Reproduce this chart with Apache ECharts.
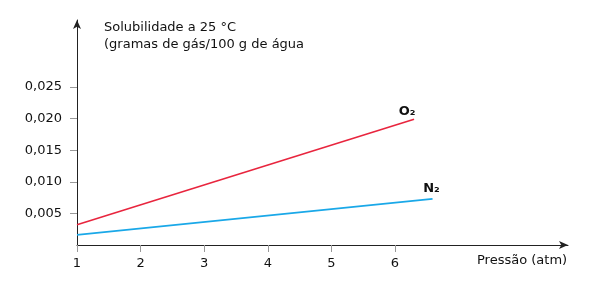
<!DOCTYPE html>
<html><head><meta charset="utf-8">
<script src="https://cdn.jsdelivr.net/npm/echarts@6/dist/echarts.min.js"></script>
<style>html,body{margin:0;padding:0;background:#fff}#c{width:614px;height:283px}</style>
</head><body><div id="c"></div>
<script>
// Data
const pressureO2 = [1, 6.3];
const solubilityO2 = [0.0032, 0.0199];
const pressureN2 = [1, 6.59];
const solubilityN2 = [0.0016, 0.0073];
const xTicks = [1, 2, 3, 4, 5, 6];
const yTicks = [0.005, 0.010, 0.015, 0.020, 0.025];
const seriesNames = ['O₂', 'N₂'];
const yTitle = ['Solubilidade a 25 °C', '(gramas de gás/100 g de água'];
const xTitle = 'Pressão (atm)';

const font = 'DejaVu Sans, Verdana, sans-serif';
function pts(xs, ys) { return xs.map((x, i) => [x, ys[i]]); }
function endLbl(name, offset) {
  return { show: true, formatter: name, align: 'center', verticalAlign: 'bottom', distance: 0, offset: offset,
    fontFamily: font, fontSize: 13, fontWeight: 'bold', color: '#111' };
}
const chart = echarts.init(document.getElementById('c'), null, { renderer: 'canvas' });
chart.setOption({
  animation: false,
  grid: { left: 77, right: 46, top: 20, bottom: 38 },
  xAxis: {
    type: 'value', min: 1, max: 8.72, interval: 1,
    splitLine: { show: false },
    axisLine: { lineStyle: { color: '#222', width: 1 }, symbol: ['none', 'arrow'], symbolSize: [6, 9] },
    axisTick: { length: 7, lineStyle: { color: '#999' }, customValues: xTicks },
    axisLabel: { customValues: xTicks, margin: 12, fontFamily: font, fontSize: 13, color: '#111',
      formatter: v => String(v) }
  },
  yAxis: {
    type: 'value', min: 0, max: 0.0356, interval: 0.005,
    splitLine: { show: false },
    axisLine: { lineStyle: { color: '#222', width: 1 }, symbol: ['none', 'arrow'], symbolSize: [6, 9] },
    axisTick: { length: 7, lineStyle: { color: '#999' }, customValues: yTicks },
    axisLabel: { customValues: yTicks, margin: 15, fontFamily: font, fontSize: 13, color: '#111',
      formatter: v => v.toFixed(3).replace('.', ',') }
  },
  graphic: [
    { type: 'text', left: 104, top: 19, style: { text: yTitle.join('\n'), font: '13px ' + font, fill: '#111', lineHeight: 17 } },
    { type: 'text', left: 477, top: 254, style: { text: xTitle, font: '13px ' + font, fill: '#111' } }
  ],
  series: [
    { type: 'line', name: seriesNames[0], data: pts(pressureO2, solubilityO2), showSymbol: false, symbol: 'none',
      lineStyle: { color: '#e8253e', width: 1.6 }, endLabel: endLbl(seriesNames[0], [-7, -1]) },
    { type: 'line', name: seriesNames[1], data: pts(pressureN2, solubilityN2), showSymbol: false, symbol: 'none',
      lineStyle: { color: '#1aa8e8', width: 1.6 }, endLabel: endLbl(seriesNames[1], [-1, -4]) }
  ]
});
</script></body></html>
